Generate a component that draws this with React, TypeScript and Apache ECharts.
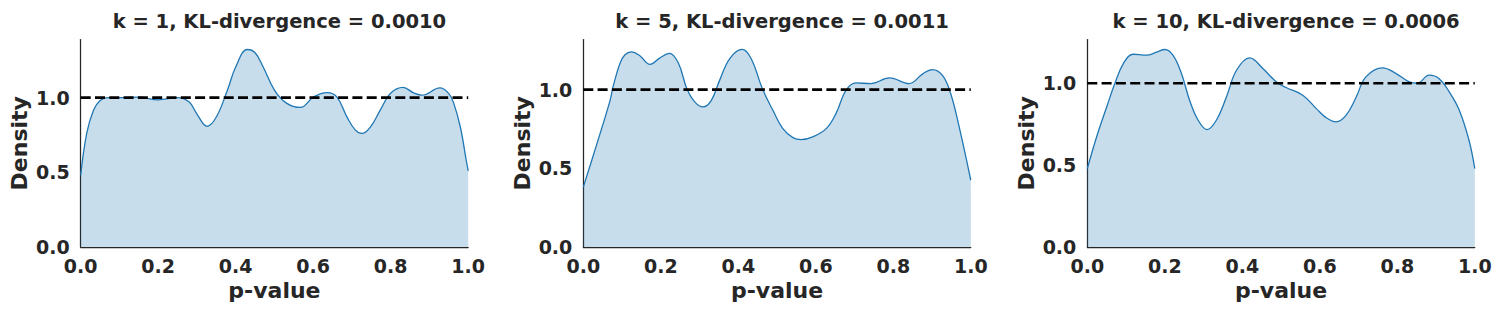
import React, { useEffect, useRef } from "react";
import * as echarts from "echarts";

const titles = [
  "k = 1, KL-divergence = 0.0010",
  "k = 5, KL-divergence = 0.0011",
  "k = 10, KL-divergence = 0.0006",
];

const xTicks = [0, 0.2, 0.4, 0.6, 0.8, 1.0];
const yMaxes = [1.389, 1.318, 1.267];

const p1 = [0, 0.0155, 0.033, 0.05, 0.07, 0.1, 0.15, 0.2, 0.25, 0.28, 0.3, 0.326, 0.35, 0.38, 0.4, 0.43, 0.45, 0.47, 0.5, 0.53, 0.567, 0.601, 0.636, 0.661, 0.687, 0.709, 0.726, 0.748, 0.773, 0.799, 0.832, 0.859, 0.881, 0.927, 0.95, 0.963, 0.98, 0.995, 1.0];
const d1 = [0.48, 0.76, 0.915, 0.98, 1.0, 1.0, 1.003, 0.985, 1.0, 0.97, 0.89, 0.808, 0.87, 1.06, 1.205, 1.322, 1.3, 1.21, 1.05, 0.965, 0.934, 1.005, 1.034, 1.005, 0.871, 0.782, 0.76, 0.804, 0.916, 1.027, 1.068, 1.032, 1.016, 1.065, 1.027, 0.96, 0.8, 0.58, 0.51];

const p2 = [0, 0.035, 0.069, 0.077, 0.0945, 0.107, 0.125, 0.146, 0.172, 0.197, 0.222, 0.245, 0.268, 0.288, 0.309, 0.33, 0.352, 0.378, 0.41, 0.433, 0.463, 0.489, 0.515, 0.541, 0.562, 0.592, 0.627, 0.652, 0.678, 0.704, 0.742, 0.79, 0.841, 0.876, 0.901, 0.927, 0.948, 0.97, 1.0];
const d2 = [0.38, 0.655, 0.93, 1.02, 1.166, 1.22, 1.24, 1.215, 1.16, 1.2, 1.23, 1.17, 1.0, 0.92, 0.89, 0.93, 1.06, 1.197, 1.255, 1.197, 1.0, 0.87, 0.752, 0.695, 0.682, 0.7, 0.752, 0.847, 0.996, 1.042, 1.038, 1.074, 1.038, 1.1, 1.127, 1.09, 0.975, 0.763, 0.424];

const p3 = [0, 0.024, 0.05, 0.071, 0.093, 0.118, 0.153, 0.179, 0.2, 0.221, 0.243, 0.264, 0.286, 0.309, 0.333, 0.359, 0.385, 0.419, 0.453, 0.488, 0.513, 0.556, 0.591, 0.616, 0.642, 0.668, 0.694, 0.719, 0.762, 0.797, 0.831, 0.852, 0.882, 0.908, 0.934, 0.96, 0.985, 1.0];
const d3 = [0.479, 0.672, 0.855, 0.998, 1.12, 1.177, 1.171, 1.19, 1.206, 1.171, 1.059, 0.896, 0.774, 0.717, 0.774, 0.916, 1.079, 1.155, 1.09, 1.008, 0.974, 0.927, 0.845, 0.79, 0.764, 0.805, 0.916, 1.039, 1.094, 1.059, 1.008, 1.0, 1.049, 1.028, 0.947, 0.835, 0.652, 0.479];

const reference = [1, 1];

const pvals = [p1, p2, p3];
const dens = [d1, d2, d3];

const FONT = "DejaVu Sans";
const TXT = "#262626";

const gridLefts = [80.7, 583.3, 1087.3];
const gridWidth = 387.5;

export default function App() {
  const ref = useRef<HTMLDivElement>(null);
  useEffect(() => {
    if (!ref.current) return;
    const chart = echarts.init(ref.current, undefined, { renderer: "svg" });
    const grids = gridLefts.map((l) => ({ left: l, top: 39.5, width: gridWidth, height: 207.5 }));
    const xAxes = gridLefts.map((_, i) => ({
      type: "value",
      gridIndex: i,
      min: 0,
      max: 1,
      interval: 0.2,
      name: "p-value",
      nameLocation: "middle",
      nameGap: 32,
      nameTextStyle: { fontFamily: FONT, fontWeight: "bold", fontSize: 22, color: TXT },
      axisLine: { show: true, lineStyle: { color: TXT, width: 1.25 } },
      axisTick: { show: false },
      splitLine: { show: false },
      axisLabel: {
        fontFamily: FONT,
        fontWeight: "bold",
        fontSize: 19,
        color: TXT,
        margin: 9,
        formatter: (v: number) => (xTicks.some((t) => Math.abs(t - v) < 1e-9) ? v.toFixed(1) : ""),
      },
    }));
    const yAxes = gridLefts.map((_, i) => ({
      type: "value",
      gridIndex: i,
      min: 0,
      max: yMaxes[i],
      interval: 0.5,
      name: "Density",
      nameLocation: "middle",
      nameGap: 50,
      nameRotate: 90,
      nameTextStyle: { fontFamily: FONT, fontWeight: "bold", fontSize: 22, color: TXT },
      axisLine: { show: true, lineStyle: { color: TXT, width: 1.25 } },
      axisTick: { show: false },
      splitLine: { show: false },
      axisLabel: {
        fontFamily: FONT,
        fontWeight: "bold",
        fontSize: 19,
        color: TXT,
        margin: 11,
        showMaxLabel: false,
        formatter: (v: number) => v.toFixed(1),
      },
    }));
    const series: any[] = [];
    for (let i = 0; i < 3; i++) {
      series.push({
        type: "line",
        xAxisIndex: i,
        yAxisIndex: i,
        data: pvals[i].map((p, j) => [p, dens[i][j]]),
        smooth: 0.4,
        symbol: "none",
        lineStyle: { color: "#1f77b4", width: 1.3 },
        areaStyle: { color: "rgba(31,119,180,0.25)", opacity: 1 },
        z: 2,
      });
      series.push({
        type: "line",
        xAxisIndex: i,
        yAxisIndex: i,
        data: [[0, reference[0]], [1, reference[1]]],
        symbol: "none",
        lineStyle: { color: "#000", width: 2.7, type: [10, 4.3] },
        z: 3,
      });
    }
    chart.setOption({
      animation: false,
      backgroundColor: "#fff",
      title: titles.map((t, i) => ({
        text: t,
        left: gridLefts[i] + gridWidth / 2,
        top: 6,
        textAlign: "center",
        textStyle: { fontFamily: FONT, fontWeight: "bold", fontSize: 19.5, color: TXT },
      })),
      grid: grids,
      xAxis: xAxes,
      yAxis: yAxes,
      series,
    });
    return () => chart.dispose();
  }, []);
  return (
    <div
      ref={ref}
      style={{ position: "absolute", left: 0, top: 0, width: 1501, height: 311 }}
    />
  );
}
